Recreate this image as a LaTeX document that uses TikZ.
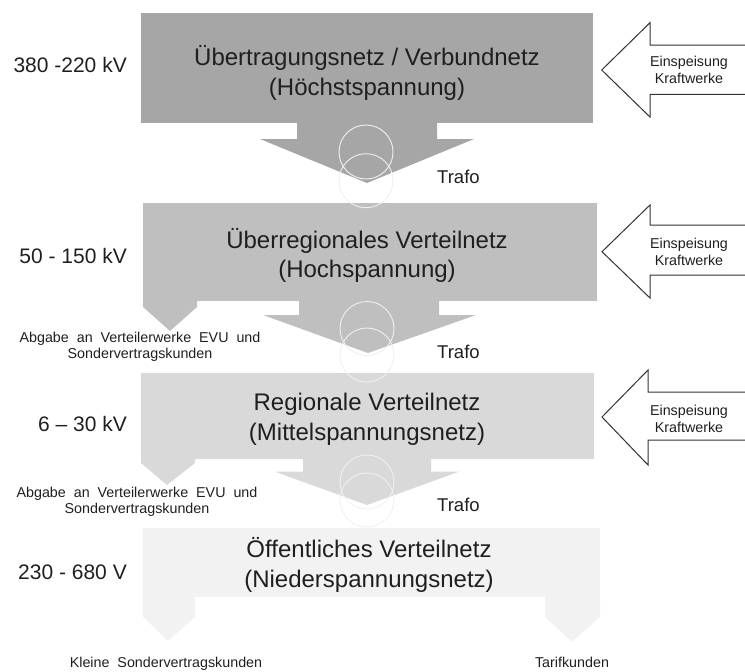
\documentclass[tikz,border=0pt]{standalone}
\usepackage{fontspec}
\setmainfont{Liberation Sans}
\definecolor{gA}{HTML}{A6A6A6}
\definecolor{gB}{HTML}{BFBFBF}
\definecolor{gC}{HTML}{D9D9D9}
\definecolor{gD}{HTML}{F2F2F2}
\definecolor{txt}{HTML}{1F1F1F}
\begin{document}
\begin{tikzpicture}[x=1pt,y=-1pt,
  big/.style={font=\fontsize{24}{28}\selectfont, text=txt, anchor=base, inner sep=0pt},
  volt/.style={font=\fontsize{21}{25}\selectfont, text=txt, anchor=base east, inner sep=0pt},
  small/.style={font=\fontsize{14.3}{17}\selectfont, text=txt, anchor=base, inner sep=0pt},
  trafo/.style={font=\fontsize{18.5}{21}\selectfont, text=txt, anchor=base west, inner sep=0pt},
  feed/.style={draw=black!80, line width=1pt, fill=white, line join=miter},
  ring/.style={draw=gray!12, line width=0.9pt}
]
\useasboundingbox (0,0) rectangle (745,672);
\clip (0,0) rectangle (745,672);

% level 1
\fill[gA] (141,12.7) rectangle (593,122.7);
\fill[gA] (297,122) -- (297,139) -- (260,139) -- (367,183) -- (474,139) -- (437,139) -- (437,122) -- cycle;
% level 2
\fill[gB] (143,203) rectangle (597,301);
\fill[gB] (143,300) -- (143,307) -- (170,331) -- (197,307) -- (197,300) -- cycle;
\fill[gB] (299,300) -- (299,315) -- (263,315) -- (368,353) -- (476,315) -- (439,315) -- (439,300) -- cycle;
% level 3
\fill[gC] (141,372.7) rectangle (594,459.3);
\fill[gC] (141,459) -- (141,463) -- (167,485) -- (195,463) -- (195,459) -- cycle;
\fill[gC] (303,459) -- (303,471.7) -- (275,471.7) -- (367,505) -- (459,471.7) -- (431,471.7) -- (431,459) -- cycle;
% level 4
\fill[gD] (143,528) rectangle (600,597);
\fill[gD] (143,596) -- (143,617) -- (168,641) -- (195,617) -- (195,596) -- cycle;
\fill[gD] (545,596) -- (545,617) -- (572,642) -- (600,617) -- (600,596) -- cycle;

% transformer rings
\draw[ring] (366,152) circle[radius=27];
\draw[ring] (366,180.7) circle[radius=27];
\draw[ring] (367,328.5) circle[radius=27];
\draw[ring] (367,355) circle[radius=27];
\draw[ring] (367,482) circle[radius=27];
\draw[ring] (367,500) circle[radius=27];

% feed-in arrows
\draw[feed] (760,45) -- (650,45) -- (650,22.7) -- (601.7,70) -- (650,117) -- (650,94.3) -- (760,94.3);
\draw[feed] (760,225) -- (650,225) -- (650,205) -- (602,251.7) -- (650,298) -- (650,275) -- (760,275);
\draw[feed] (760,392) -- (648,392) -- (648,370) -- (602,417) -- (648,465) -- (648,440) -- (760,440);

% main texts
\node[big] (t1a) at (367,65) {Übertragungsnetz / Verbundnetz};
\node[big] (t1b) at (367,95) {(Höchstspannung)};
\node[big] (t2a) at (367,248) {Überregionales Verteilnetz};
\node[big] (t2b) at (367,277) {(Hochspannung)};
\node[big] (t3a) at (367,410) {Regionale Verteilnetz};
\node[big] (t3b) at (367,440) {(Mittelspannungsnetz)};
\node[big] (t4a) at (369,557) {Öffentliches Verteilnetz};
\node[big] (t4b) at (369,587) {(Niederspannungsnetz)};

% voltages
\node[volt] (v1) at (127,72.7) {380 -220 kV};
\node[volt] (v2) at (127,263) {50 - 150 kV};
\node[volt] (v3) at (127,431.7) {6 – 30 kV};
\node[volt] (v4) at (127,579) {230 - 680 V};

% trafo labels
\node[trafo] (tr1) at (437,183) {Trafo};
\node[trafo] (tr2) at (437,358) {Trafo};
\node[trafo] (tr3) at (437,511) {Trafo};

% feed-in labels
\node[small] (e1a) at (689,66) {Einspeisung};
\node[small] (e1b) at (689,83) {Kraftwerke};
\node[small] (e2a) at (689,248) {Einspeisung};
\node[small] (e2b) at (689,265) {Kraftwerke};
\node[small] (e3a) at (689,415) {Einspeisung};
\node[small] (e3b) at (689,432) {Kraftwerke};

% outputs
\node[small] (a1a) at (140,342) {Abgabe\ \ an\ \ Verteilerwerke\ \ EVU\ \ und};
\node[small] (a1b) at (140,358) {Sondervertragskunden};
\node[small] (a2a) at (137,497) {Abgabe\ \ an\ \ Verteilerwerke\ \ EVU\ \ und};
\node[small] (a2b) at (137,513) {Sondervertragskunden};
\node[small] (k1) at (166,667) {Kleine\ \ Sondervertragskunden};
\node[small] (k2) at (572,667) {Tarifkunden};
\end{tikzpicture}
\end{document}
